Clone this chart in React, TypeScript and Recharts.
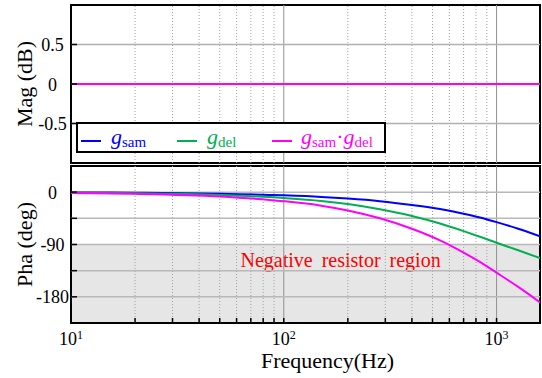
import React from 'react';
import { LineChart, Line, XAxis, YAxis, ReferenceLine, ReferenceArea, Label } from 'recharts';

// frequency points (Hz) and phase readings (deg)
const freq = [10, 20, 50, 100, 150, 200, 283, 400, 542, 700, 835, 1000, 1264, 1600];
const magSam = [0, 0, 0, 0, 0, 0, 0, 0, 0, 0, 0, 0, 0, 0];
const magDel = [0, 0, 0, 0, 0, 0, 0, 0, 0, 0, 0, 0, 0, 0];
const magProd = [0, 0, 0, 0, 0, 0, 0, 0, 0, 0, 0, 0, 0, 0];
const phaSam = [-0.5, -1.0, -2.6, -5.5, -8.2, -11, -15.5, -22, -29, -37, -43.5, -51.5, -63, -76];
const phaDel = [-0.9, -1.8, -4.8, -10, -15, -20.5, -29.5, -41, -54, -67, -76.6, -87, -100, -113.5];
const phaProd = [-1.4, -2.8, -7.4, -15.5, -23.2, -31.5, -45, -63, -83, -104, -120, -138.5, -163, -189.5];

const xTicks = [10, 20, 30, 40, 50, 60, 70, 80, 90, 100, 200, 300, 400, 500, 600, 700, 800, 900, 1000];
const minorX = [20, 30, 40, 50, 60, 70, 80, 90, 200, 300, 400, 500, 600, 700, 800, 900];
const majorX = [100, 1000];
const decades = [10, 100, 1000];
const magTicks = [-0.5, 0, 0.5];
const magLabels = ['-0.5', '0', '0.5'];
const phaTicks = [-180, -135, -90, -45, 0];
const phaLabels: Record<number, string> = { 0: '0', '-90': '-90', '-180': '-180' };

const BLUE = '#0000ff';
const GREEN = '#00b050';
const PINK = '#ff00ff';

const magData = freq.map((f, i) => ({ f, sam: magSam[i], del: magDel[i], prod: magProd[i] }));
const phaData = freq.map((f, i) => ({ f, sam: phaSam[i], del: phaDel[i], prod: phaProd[i] }));

const TopEdgeTick = ({ x, y }: any) => <line x1={x} y1={y} x2={x} y2={y + 5} stroke="#000" strokeWidth={1.5} />;
const BottomEdgeTick = ({ x, y }: any) => <line x1={x} y1={y} x2={x} y2={y - 5} stroke="#000" strokeWidth={1.5} />;
const RightEdgeTick = ({ x, y }: any) => <line x1={x} y1={y} x2={x - 6} y2={y} stroke="#000" strokeWidth={1.5} />;

const FreqTick = ({ x, y, payload }: any) => {
  const v = payload.value;
  return (
    <g>
      <line x1={x} y1={y} x2={x} y2={y - 5} stroke="#000" strokeWidth={1.5} />
      {decades.includes(v) && (
        <text x={x} y={y + 22} textAnchor="middle" fontSize={18} fill="#000">
          <tspan>10</tspan>
          <tspan dy={-6} fontSize={12}>{Math.round(Math.log10(v))}</tspan>
        </text>
      )}
    </g>
  );
};

const makeLeftTick = (labelFor: (v: number) => string | undefined) => ({ x, y, payload }: any) => {
  const txt = labelFor(payload.value);
  return (
    <g>
      <line x1={x} y1={y} x2={x + 6} y2={y} stroke="#000" strokeWidth={1.5} />
      {txt && (
        <text x={x - 18.5} y={y + 6.5} textAnchor="middle" fontSize={18} fill="#000">{txt}</text>
      )}
    </g>
  );
};
const MagTick = makeLeftTick((v) => magLabels[magTicks.indexOf(v)]);
const PhaTick = makeLeftTick((v) => phaLabels[v]);

const yTitle = (text: string) => ({ viewBox }: any) => {
  const cx = viewBox.x + 31.5;
  const cy = viewBox.y + viewBox.height / 2;
  return (
    <text x={cx} y={cy} textAnchor="middle" fontSize={22} fill="#000" transform={`rotate(-90 ${cx} ${cy})`}>
      {text}
    </text>
  );
};

const xTitle = ({ viewBox }: any) => (
  <text x={viewBox.x + viewBox.width / 2 + 22} y={viewBox.y + 45} textAnchor="middle" fontSize={22} fill="#000">
    Frequency(Hz)
  </text>
);

const regionLabel = ({ viewBox }: any) => (
  <text x={viewBox.x + 169.5} y={viewBox.y + 22.7} fontSize={20} fill="#ff0000" style={{ wordSpacing: 4 }}>
    Negative resistor region
  </text>
);

const axisCommon = {
  type: 'number' as const,
  dataKey: 'f',
  scale: 'log' as const,
  domain: [10, 1600],
  allowDataOverflow: true,
  ticks: xTicks,
  interval: 0 as const,
  tickSize: 0,
  tickMargin: 0,
  axisLine: false,
  tickLine: false,
};

const gridLines = (yVals: number[], gridColor: string) => (
  <>
    {minorX.map((m) => (
      <ReferenceLine key={'m' + m} xAxisId="b" yAxisId="l" x={m} stroke="#a0a0a0" strokeDasharray="1 2" strokeWidth={1} />
    ))}
    {majorX.map((m) => (
      <ReferenceLine key={'M' + m} xAxisId="b" yAxisId="l" x={m} stroke="#909090" strokeWidth={1} />
    ))}
    {yVals.map((v) => (
      <ReferenceLine key={'h' + v} xAxisId="b" yAxisId="l" y={v} stroke={gridColor} strokeWidth={1.5} />
    ))}
  </>
);

const LegendBox = () => {
  const sub = (t: string) => (
    <span style={{ fontSize: 15, fontStyle: 'normal', position: 'relative', top: 3 }}>{t}</span>
  );
  const item = (left: number, color: string, content: React.ReactNode, lineLeft: number) => (
    <>
      <div style={{ position: 'absolute', left: lineLeft, top: 16, width: 20, height: 2, background: color }} />
      <div style={{ position: 'absolute', left, top: 2, lineHeight: '22px', fontSize: 22, color, whiteSpace: 'nowrap' }}>
        {content}
      </div>
    </>
  );
  return (
    <div
      style={{
        position: 'absolute',
        left: 76,
        top: 122,
        width: 310,
        height: 31,
        boxSizing: 'border-box',
        border: '2px solid #000',
        background: '#fff',
      }}
    >
      {item(33, BLUE, <><i>g</i>{sub('sam')}</>, 3)}
      {item(129, GREEN, <><i>g</i>{sub('del')}</>, 99)}
      {item(
        223,
        PINK,
        <>
          <i>g</i>
          {sub('sam')}
          <span>·</span>
          <i>g</i>
          {sub('del')}
        </>,
        194,
      )}
    </div>
  );
};

export default function App() {
  return (
    <div
      style={{
        position: 'absolute',
        left: 0,
        top: 0,
        width: 542,
        height: 378,
        background: '#fff',
        fontFamily: "'Liberation Serif', 'Times New Roman', serif",
      }}
    >
      <div style={{ position: 'absolute', left: 0, top: 0 }}>
        <LineChart width={542} height={166} data={magData} margin={{ top: 5, right: 2, bottom: 3, left: 0 }}>
          <XAxis xAxisId="b" {...axisCommon} height={0} tick={BottomEdgeTick} />
          <XAxis xAxisId="t" orientation="top" {...axisCommon} height={0} tick={TopEdgeTick} />
          <YAxis
            yAxisId="l"
            width={71}
            type="number"
            domain={[-1, 1]}
            allowDataOverflow
            ticks={magTicks}
            interval={0}
            tickSize={0}
            tickMargin={0}
            axisLine={false}
            tickLine={false}
            tick={MagTick}
          >
            <Label content={yTitle('Mag (dB)')} />
          </YAxis>
          <YAxis
            yAxisId="r"
            orientation="right"
            width={0}
            type="number"
            domain={[-1, 1]}
            allowDataOverflow
            ticks={magTicks}
            interval={0}
            tickSize={0}
            tickMargin={0}
            axisLine={false}
            tickLine={false}
            tick={RightEdgeTick}
          />
          {gridLines([0.5, -0.5], '#b0b0b0')}
          <ReferenceArea xAxisId="b" yAxisId="l" x1={10} x2={1600} y1={-1} y2={1} fill="none" fillOpacity={0} stroke="#000" strokeWidth={2} />
          <Line xAxisId="b" yAxisId="l" dataKey="sam" stroke={BLUE} strokeWidth={2} dot={false} type="monotone" isAnimationActive={false} />
          <Line xAxisId="b" yAxisId="l" dataKey="del" stroke={GREEN} strokeWidth={2} dot={false} type="monotone" isAnimationActive={false} />
          <Line xAxisId="b" yAxisId="l" dataKey="prod" stroke={PINK} strokeWidth={2} dot={false} type="monotone" isAnimationActive={false} />
        </LineChart>
      </div>
      <LegendBox />
      <div style={{ position: 'absolute', left: 0, top: 160 }}>
        <LineChart width={542} height={218} data={phaData} margin={{ top: 6, right: 2, bottom: 0, left: 0 }}>
          <XAxis xAxisId="b" {...axisCommon} height={55} tick={FreqTick}>
            <Label content={xTitle} />
          </XAxis>
          <XAxis xAxisId="t" orientation="top" {...axisCommon} height={0} tick={TopEdgeTick} />
          <YAxis
            yAxisId="l"
            width={71}
            type="number"
            domain={[-225, 45]}
            allowDataOverflow
            ticks={phaTicks}
            interval={0}
            tickSize={0}
            tickMargin={0}
            axisLine={false}
            tickLine={false}
            tick={PhaTick}
          >
            <Label content={yTitle('Pha (deg)')} />
          </YAxis>
          <YAxis
            yAxisId="r"
            orientation="right"
            width={0}
            type="number"
            domain={[-225, 45]}
            allowDataOverflow
            ticks={phaTicks}
            interval={0}
            tickSize={0}
            tickMargin={0}
            axisLine={false}
            tickLine={false}
            tick={RightEdgeTick}
          />
          <ReferenceArea xAxisId="b" yAxisId="l" x1={10} x2={1600} y1={-225} y2={-90} fill="#e6e6e6" fillOpacity={1} stroke="none">
            <Label content={regionLabel} />
          </ReferenceArea>
          {gridLines([0, -45, -90, -135, -180], '#b8b8b8')}
          <ReferenceArea xAxisId="b" yAxisId="l" x1={10} x2={1600} y1={-225} y2={45} fill="none" fillOpacity={0} stroke="#000" strokeWidth={2} />
          <Line xAxisId="b" yAxisId="l" dataKey="sam" stroke={BLUE} strokeWidth={2} dot={false} type="monotone" isAnimationActive={false} />
          <Line xAxisId="b" yAxisId="l" dataKey="del" stroke={GREEN} strokeWidth={2} dot={false} type="monotone" isAnimationActive={false} />
          <Line xAxisId="b" yAxisId="l" dataKey="prod" stroke={PINK} strokeWidth={2} dot={false} type="monotone" isAnimationActive={false} />
        </LineChart>
      </div>
    </div>
  );
}
